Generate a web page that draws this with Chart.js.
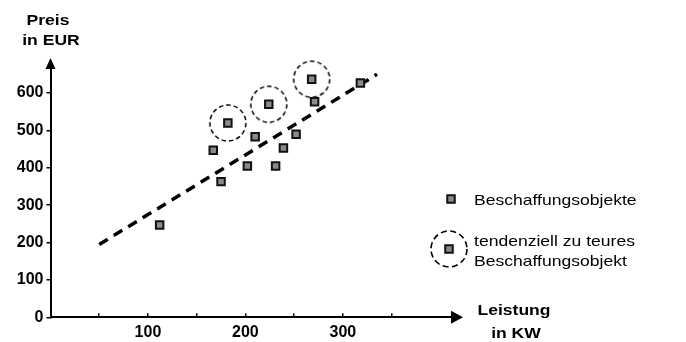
<!DOCTYPE html>
<html>
<head>
<meta charset="utf-8">
<script src="https://cdn.jsdelivr.net/npm/chart.js@4"></script>
<style>
  body { margin: 0; background: #fff; }
  canvas { display: block; }
</style>
</head>
<body>
<canvas id="chart" width="686" height="342"></canvas>
<script>
// Beschaffungsobjekte: Leistung (KW) und Preis (EUR)
const leistung = [112, 167, 175, 182, 202, 210, 224, 231, 239, 252, 268, 271, 318];
const preis = [247, 447, 363, 520, 405, 483, 570, 405, 453, 490, 637, 577, 627];

// tendenziell zu teure Objekte (eingekreist)
const teuerLeistung = [182, 224, 268];
const teuerPreis = [520, 570, 637];

// Trendlinie
const trendLeistung = [50, 335];
const trendPreis = [195, 650];

const xTickValues = [50, 100, 150, 200, 250, 300, 350];
const xTickLabels = ['', '100', '', '200', '', '300', ''];
const yTickValues = [0, 100, 200, 300, 400, 500, 600];
const yTickLabels = ['0', '100', '200', '300', '400', '500', '600'];

const FONT = "'Liberation Sans', Arial, sans-serif";

// dashed circle used as point style for the expensive objects
function dashedCircle(r, dash, lw) {
    const c = document.createElement('canvas');
    c.width = c.height = r * 2 + 4;
    const g = c.getContext('2d');
    g.setLineDash(dash);
    g.lineWidth = lw;
    g.strokeStyle = '#000';
    g.beginPath();
    g.arc(r + 2, r + 2, r, 0, Math.PI * 2);
    g.stroke();
    return c;
}

function toPoints(xs, ys) {
    return xs.map((x, i) => ({ x: x, y: ys[i] }));
}

function stretchText(ctx, text, x, y, sx) {
    ctx.save();
    ctx.translate(x, y);
    ctx.scale(sx, 1);
    ctx.fillText(text, 0, 0);
    ctx.restore();
}

const overlay = {
    id: 'overlay',
    afterDraw(chart) {
        const ctx = chart.ctx;
        const a = chart.chartArea;
        ctx.save();
        ctx.fillStyle = '#000';

        // arrow heads
        ctx.beginPath();
        ctx.moveTo(a.left, a.top - 10);
        ctx.lineTo(a.left - 5, a.top + 1);
        ctx.lineTo(a.left + 5, a.top + 1);
        ctx.closePath();
        ctx.fill();

        ctx.beginPath();
        ctx.moveTo(a.right + 11, a.bottom);
        ctx.lineTo(a.right - 1, a.bottom - 6.5);
        ctx.lineTo(a.right - 1, a.bottom + 6.5);
        ctx.closePath();
        ctx.fill();

        // axis titles
        ctx.font = 'bold 15px ' + FONT;
        ctx.textAlign = 'center';
        ctx.textBaseline = 'alphabetic';
        stretchText(ctx, 'Preis', 48, 25, 1.17);
        stretchText(ctx, 'in EUR', 51, 45, 1.17);
        stretchText(ctx, 'Leistung', 514, 315, 1.17);
        stretchText(ctx, 'in KW', 516, 338, 1.17);

        // legend
        const marker = {
            pointStyle: 'rect', radius: 5.3, borderWidth: 2,
            borderColor: '#111', backgroundColor: '#8a8a8a'
        };
        ctx.fillStyle = '#8a8a8a';
        Chart.helpers.drawPoint(ctx, marker, 451, 199);
        Chart.helpers.drawPoint(ctx, marker, 449, 249);

        ctx.setLineDash([6, 3.5]);
        ctx.lineWidth = 1.6;
        ctx.strokeStyle = '#000';
        ctx.beginPath();
        ctx.arc(449, 249, 18, 0, Math.PI * 2);
        ctx.stroke();
        ctx.setLineDash([]);

        ctx.fillStyle = '#000';
        ctx.font = '15px ' + FONT;
        ctx.textAlign = 'left';
        stretchText(ctx, 'Beschaffungsobjekte', 474, 205, 1.17);
        stretchText(ctx, 'tendenziell zu teures', 474, 246, 1.17);
        stretchText(ctx, 'Beschaffungsobjekt', 474, 266, 1.17);
        ctx.restore();
    }
};

new Chart(document.getElementById('chart'), {
    type: 'scatter',
    data: {
        datasets: [
            {
                label: 'Beschaffungsobjekte',
                data: toPoints(leistung, preis),
                pointStyle: 'rect',
                pointRadius: 5.3,
                pointBorderWidth: 2,
                pointBorderColor: '#111',
                pointBackgroundColor: '#8a8a8a',
                order: 0,
                clip: false
            },
            {
                label: 'tendenziell zu teures Beschaffungsobjekt',
                data: toPoints(teuerLeistung, teuerPreis),
                pointStyle: dashedCircle(18, [4.5, 3], 1.5),
                order: 1,
                clip: false
            },
            {
                label: 'Trend',
                data: toPoints(trendLeistung, trendPreis),
                showLine: true,
                borderColor: '#000',
                borderWidth: 3.5,
                borderDash: [10, 7],
                pointRadius: 0,
                order: 2,
                clip: false
            }
        ]
    },
    options: {
        responsive: false,
        animation: false,
        devicePixelRatio: 1,
        events: [],
        layout: { padding: { left: 0, top: 68, right: 234, bottom: 0 } },
        plugins: { legend: { display: false }, tooltip: { enabled: false } },
        scales: {
            x: {
                type: 'linear',
                min: 0,
                max: 412,
                afterFit: s => { s.height = 24.7; },
                afterBuildTicks: s => { s.ticks = xTickValues.map(v => ({ value: v })); },
                border: { display: true, color: '#000', width: 2 },
                grid: { drawOnChartArea: false, drawTicks: true, tickLength: -4, color: '#000', lineWidth: 1.5 },
                ticks: {
                    padding: 10,
                    color: '#000',
                    maxRotation: 0,
                    autoSkip: false,
                    font: { family: FONT, size: 16, weight: 'bold' },
                    callback: (v, i) => xTickLabels[i]
                }
            },
            y: {
                type: 'linear',
                min: 0,
                max: 667,
                afterFit: s => { s.width = 50.5; },
                afterBuildTicks: s => { s.ticks = yTickValues.map(v => ({ value: v })); },
                border: { display: true, color: '#000', width: 2 },
                grid: { drawOnChartArea: false, drawTicks: true, tickLength: 4, color: '#000', lineWidth: 1.5 },
                ticks: {
                    padding: 3,
                    color: '#000',
                    autoSkip: false,
                    font: { family: FONT, size: 16, weight: 'bold' },
                    callback: (v, i) => yTickLabels[i]
                }
            }
        }
    },
    plugins: [overlay]
});
</script>
</body>
</html>
